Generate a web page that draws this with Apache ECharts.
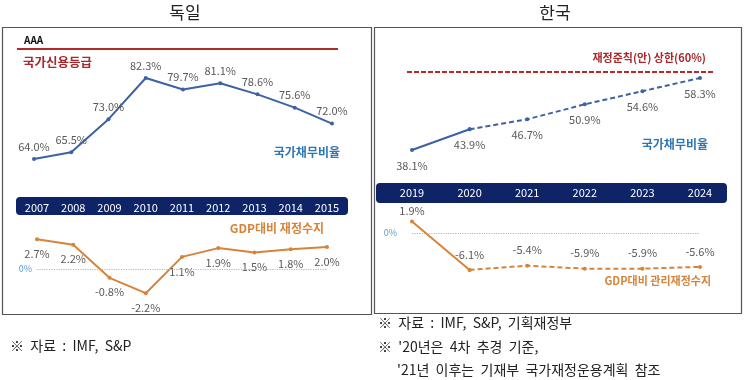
<!DOCTYPE html>
<html><head><meta charset="utf-8">
<script src="https://cdn.jsdelivr.net/npm/echarts@6/dist/echarts.min.js"></script>
<style>html,body{margin:0;padding:0;background:#fff}#c{width:750px;height:380px}</style>
</head><body><div id="c"></div>
<script>
// ---- data ----
const deYears = ['2007','2008','2009','2010','2011','2012','2013','2014','2015'];
const deDebt = [64.0, 65.5, 73.0, 82.3, 79.7, 81.1, 78.6, 75.6, 72.0];
const deBalance = [2.7, 2.2, -0.8, -2.2, 1.1, 1.9, 1.5, 1.8, 2.0];
const krYears = ['2019','2020','2021','2022','2023','2024'];
const krDebt = [38.1, 43.9, 46.7, 50.9, 54.6, 58.3];
const krBalance = [1.9, -6.1, -5.4, -5.9, -5.9, -5.6];
const krDebtLimit = 60;
const zeroLine = 0;

const FONT = '"Noto Sans CJK KR", "Noto Sans", sans-serif';
const BLUE = '#3d62a3', ORANGE = '#d6843a', NAVY = '#0f2466', DARKRED = '#a8282c', LBLUE = '#2e75b6';
const pct = p => Number(p.value).toFixed(1) + '%';
const lbl = (pos, dist) => ({show:true, position:pos, distance:dist, color:'#595959', fontSize:11, fontFamily:FONT, formatter:pct});

const chart = echarts.init(document.getElementById('c'), null, {renderer:'canvas'});

const hiddenX = (grid, data) => ({type:'category', gridIndex:grid, data, boundaryGap:false, show:false});
const yv = (grid, min, max) => ({type:'value', gridIndex:grid, min, max, show:false});

const zeroMark = (lx) => ({
  silent:true, symbol:'none',
  lineStyle:{type:'dotted', color:'#9fb8d6', width:1.2},
  label:{show:true, position:'start', formatter:'0%', color:'#5b9bd5', fontSize:9, fontFamily:FONT, distance:lx},
  data:[{yAxis:zeroLine}]
});

chart.setOption({
  animation:false,
  grid:[
    {left:34, right:750-332, top:21.8, height:177},
    {left:37, right:750-327, top:225, height:88},
    {left:412, right:750-700, top:54.1, height:124.7},
    {left:412, right:750-700, top:202.75, height:90.75}
  ],
  xAxis:[
    hiddenX(0, deYears),
    {type:'category', gridIndex:1, data:deYears, boundaryGap:false, position:'top',
      axisLine:{show:false}, axisTick:{show:false},
      axisLabel:{color:'#fff', fontSize:11, fontFamily:FONT, margin:12}},
    hiddenX(2, krYears),
    {type:'category', gridIndex:3, data:krYears, boundaryGap:false, position:'top',
      axisLine:{show:false}, axisTick:{show:false},
      axisLabel:{color:'#fff', fontSize:11, fontFamily:FONT, margin:4}}
  ],
  yAxis:[yv(0,55,95), yv(1,-4,4), yv(2,30,65), yv(3,-10,5)],
  series:[
    {type:'line', xAxisIndex:0, yAxisIndex:0, data:deDebt, symbol:'circle', symbolSize:4,
      lineStyle:{color:BLUE, width:2}, itemStyle:{color:BLUE}, label:lbl('top',5)},
    {type:'line', xAxisIndex:1, yAxisIndex:1, data:deBalance, symbol:'circle', symbolSize:4,
      lineStyle:{color:ORANGE, width:2}, itemStyle:{color:ORANGE}, label:lbl('bottom',7),
      markLine:zeroMark(5)},
    {type:'line', xAxisIndex:2, yAxisIndex:2, data:krDebt.map((v,i)=> i<=1 ? v : '-'), symbol:'circle', symbolSize:4,
      lineStyle:{color:BLUE, width:2}, itemStyle:{color:BLUE},
      label:Object.assign(lbl('bottom',8), {formatter:p => p.dataIndex===0 ? pct(p) : ''}),
      markLine:{silent:true, symbol:'none', lineStyle:{type:[5,2], color:'#b52a2a', width:2},
        label:{show:false}, data:[[{xAxis:0, yAxis:krDebtLimit, x:407},{xAxis:5, yAxis:krDebtLimit, x:713}]]}},
    {type:'line', xAxisIndex:2, yAxisIndex:2, data:krDebt.map((v,i)=> i>=1 ? v : '-'), symbol:'circle', symbolSize:4,
      lineStyle:{color:BLUE, width:2, type:[5,3]}, itemStyle:{color:BLUE}, label:lbl('bottom',8)},
    {type:'line', xAxisIndex:3, yAxisIndex:3, data:krBalance.map((v,i)=> i<=1 ? v : '-'), symbol:'circle', symbolSize:4,
      lineStyle:{color:ORANGE, width:2}, itemStyle:{color:ORANGE},
      label:Object.assign(lbl('top',3), {formatter:p => p.dataIndex===0 ? pct(p) : ''}),
      markLine:zeroMark(15)},
    {type:'line', xAxisIndex:3, yAxisIndex:3, data:krBalance.map((v,i)=> i>=1 ? v : '-'), symbol:'circle', symbolSize:4,
      lineStyle:{color:ORANGE, width:2, type:[5,3]}, itemStyle:{color:ORANGE}, label:lbl('top',8)}
  ],
  graphic:[
    // panel boxes
    {type:'rect', z:-1, shape:{x:2.5, y:27.5, width:369, height:287}, style:{fill:'none', stroke:'#555', lineWidth:1.2}},
    {type:'rect', z:-1, shape:{x:374.5, y:27.5, width:367, height:286}, style:{fill:'none', stroke:'#555', lineWidth:1.2}},
    // navy year bands
    {type:'rect', z:0, shape:{x:16, y:197, width:332, height:18, r:4}, style:{fill:NAVY}},
    {type:'rect', z:0, shape:{x:376, y:183, width:351, height:20, r:4}, style:{fill:NAVY}},
    // titles
    {type:'text', style:{text:'독일', x:185, y:13, fontSize:17, fontFamily:FONT, fill:'#222', align:'center', verticalAlign:'middle'}},
    {type:'text', style:{text:'한국', x:555, y:13, fontSize:17, fontFamily:FONT, fill:'#222', align:'center', verticalAlign:'middle'}},
    // Germany credit rating
    {type:'text', style:{text:'AAA', x:24, y:40, fontSize:10, fontWeight:'bold', fontFamily:FONT, fill:'#111', verticalAlign:'middle'}},
    {type:'line', shape:{x1:17, y1:49, x2:338, y2:49}, style:{stroke:'#b22a2a', lineWidth:2}},
    {type:'text', style:{text:'국가신용등급', x:23, y:62, fontSize:12.5, fontWeight:'bold', fontFamily:FONT, fill:DARKRED, verticalAlign:'middle'}},
    {type:'text', style:{text:'국가채무비율', x:340, y:152, fontSize:12, fontWeight:'bold', fontFamily:FONT, fill:LBLUE, align:'right', verticalAlign:'middle'}},
    {type:'text', style:{text:'GDP대비 재정수지', x:324, y:228, fontSize:12, fontWeight:'bold', fontFamily:FONT, fill:ORANGE, align:'right', verticalAlign:'middle'}},
    // Korea labels
    {type:'text', style:{text:'재정준칙(안) 상한(60%)', x:706, y:58, fontSize:11, fontWeight:'bold', fontFamily:FONT, fill:DARKRED, align:'right', verticalAlign:'middle'}},
    {type:'text', style:{text:'국가채무비율', x:708, y:144, fontSize:12, fontWeight:'bold', fontFamily:FONT, fill:LBLUE, align:'right', verticalAlign:'middle'}},
    {type:'text', style:{text:'GDP대비 관리재정수지', x:711, y:281, fontSize:11, fontWeight:'bold', fontFamily:FONT, fill:ORANGE, align:'right', verticalAlign:'middle'}},
    // notes
    {type:'text', style:{text:'※  자료  :  IMF,  S&P', x:10, y:346, fontSize:14, fontFamily:FONT, fill:'#222', verticalAlign:'middle'}},
    {type:'text', style:{text:'※  자료  :  IMF,  S&P,  기획재정부', x:378, y:323, fontSize:14, fontFamily:FONT, fill:'#222', verticalAlign:'middle'}},
    {type:'text', style:{text:'※  \'20년은  4차  추경  기준,', x:378, y:347, fontSize:14, fontFamily:FONT, fill:'#222', verticalAlign:'middle'}},
    {type:'text', style:{text:'\'21년  이후는  기재부  국가재정운용계획  참조', x:397, y:370, fontSize:14, fontFamily:FONT, fill:'#222', verticalAlign:'middle'}}
  ]
});
</script></body></html>
